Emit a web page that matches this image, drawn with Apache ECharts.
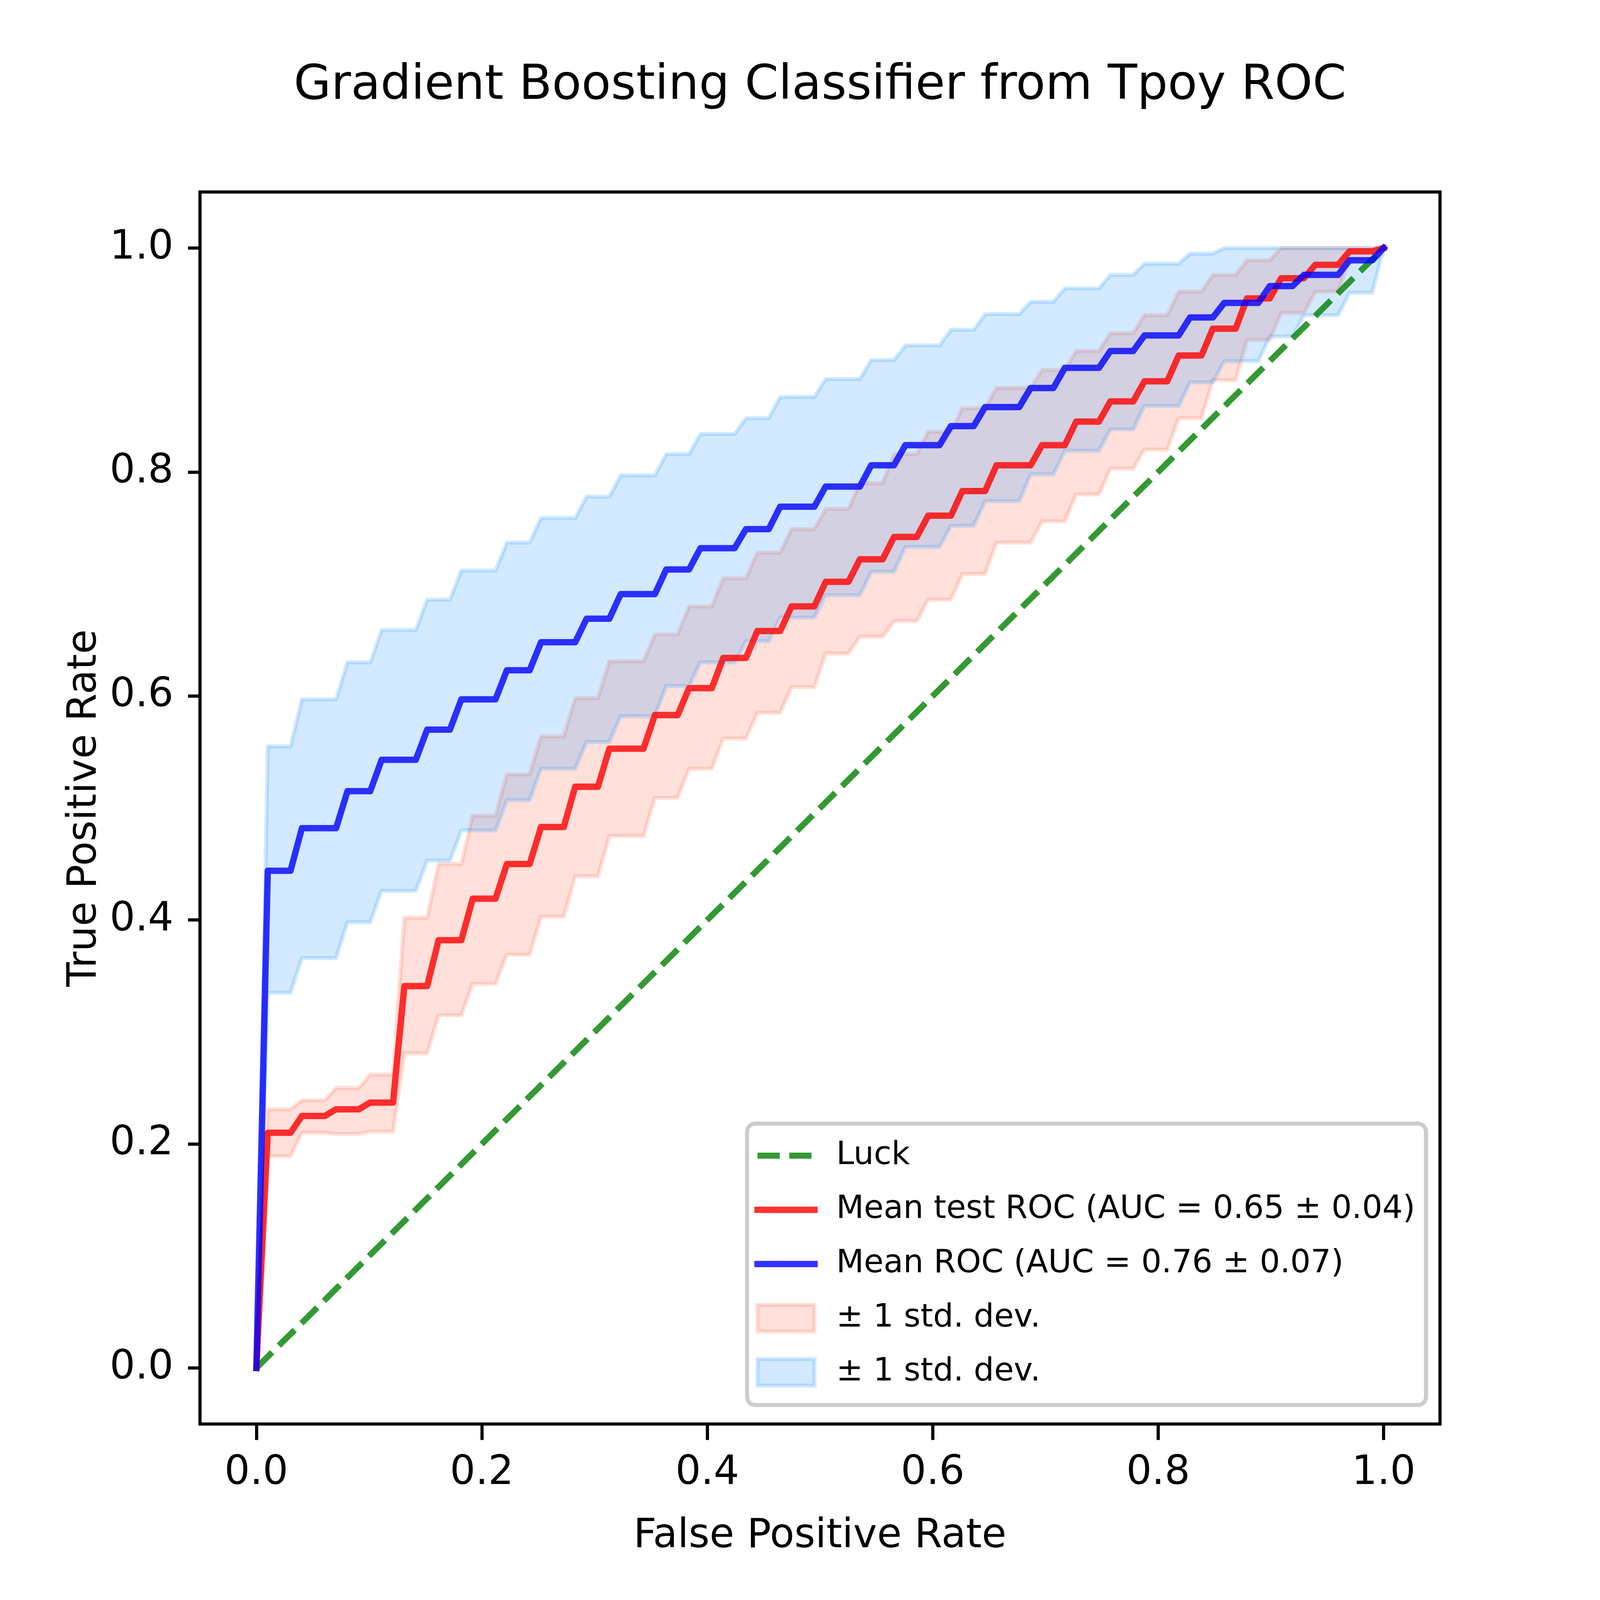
<!DOCTYPE html>
<html>
<head>
<meta charset="utf-8">
<script src="https://cdn.jsdelivr.net/npm/echarts@6/dist/echarts.min.js"></script>
<style>
  html, body { margin: 0; padding: 0; background: #fff; overflow: hidden; }
</style>
</head>
<body>
<div id="root"></div>
<script>
// mean curves are sampled on a 100 point fpr grid (0 .. 1)
const gridSize = 100

// chance line
const luckX = [0, 1]
const luckY = [0, 1]

// red curves (test ROC): grid index where each flat run starts + the level of that run
const redStarts = [0, 1, 4, 7, 10, 13, 16, 19, 22, 25, 28, 31, 35, 38, 41, 44, 47, 50, 53, 56, 59, 62, 65, 69, 72, 75, 78, 81, 84, 87, 90, 93, 96, 99]
const redMean = [0, 0.210, 0.225, 0.231, 0.237, 0.341, 0.382, 0.419, 0.450, 0.483, 0.519, 0.553, 0.583, 0.607, 0.634, 0.658, 0.680, 0.702, 0.722, 0.742, 0.761, 0.783, 0.806, 0.824, 0.845, 0.863, 0.881, 0.904, 0.928, 0.955, 0.973, 0.985, 0.997, 1.0]
const redUpper = [0, 0.231, 0.239, 0.250, 0.262, 0.402, 0.450, 0.493, 0.530, 0.564, 0.598, 0.631, 0.655, 0.680, 0.705, 0.728, 0.749, 0.767, 0.790, 0.816, 0.836, 0.857, 0.875, 0.891, 0.908, 0.924, 0.940, 0.961, 0.976, 0.989, 1.0, 1.0, 1.0, 1.0]
const redLower = [0, 0.189, 0.210, 0.209, 0.211, 0.281, 0.315, 0.343, 0.369, 0.403, 0.439, 0.475, 0.509, 0.535, 0.562, 0.585, 0.608, 0.638, 0.653, 0.667, 0.686, 0.709, 0.737, 0.756, 0.780, 0.803, 0.820, 0.848, 0.882, 0.918, 0.942, 0.961, 0.990, 1.0]

// blue curves (cv ROC)
const blueStarts = [0, 1, 4, 8, 11, 15, 18, 22, 25, 29, 32, 36, 39, 43, 46, 50, 54, 57, 61, 64, 68, 71, 75, 78, 82, 85, 89, 92, 96, 99]
const blueMean = [0, 0.444, 0.482, 0.515, 0.543, 0.570, 0.597, 0.623, 0.648, 0.669, 0.691, 0.713, 0.732, 0.749, 0.769, 0.787, 0.806, 0.824, 0.841, 0.858, 0.875, 0.893, 0.908, 0.922, 0.938, 0.951, 0.966, 0.976, 0.989, 1.0]
const blueUpper = [0, 0.555, 0.597, 0.630, 0.659, 0.686, 0.712, 0.737, 0.759, 0.778, 0.797, 0.816, 0.834, 0.848, 0.867, 0.883, 0.900, 0.913, 0.927, 0.941, 0.952, 0.964, 0.976, 0.986, 0.995, 1.0, 1.0, 1.0, 1.0, 1.0]
const blueLower = [0, 0.335, 0.366, 0.398, 0.426, 0.453, 0.480, 0.507, 0.535, 0.559, 0.582, 0.609, 0.630, 0.649, 0.670, 0.690, 0.711, 0.733, 0.752, 0.774, 0.798, 0.819, 0.838, 0.859, 0.880, 0.899, 0.921, 0.940, 0.960, 1.0]

const xTicks = [0, 0.2, 0.4, 0.6, 0.8, 1.0]
const yTicks = [0, 0.2, 0.4, 0.6, 0.8, 1.0]

const titleText = 'Gradient Boosting Classifier from Tpoy ROC'
const legendNames = ['Luck', 'Mean test ROC (AUC = 0.65 \u00b1 0.04)', 'Mean ROC (AUC = 0.76 \u00b1 0.07)', '\u00b1 1 std. dev.', '\u00b1 1 std. dev. ']

// sizes below are written for a 6400x4800 figure and scaled to the real window
const main = document.getElementById('root')
const width = document.documentElement.clientWidth || 6400
const height = document.documentElement.clientHeight || 4800
main.style.width = `${width}px`
main.style.height = `${height}px`
const kx = width / 6400
const ky = height / 4800
const kf = Math.sqrt(kx * ky)
const sx = (v) => v * kx
const sy = (v) => v * ky
const sf = (v) => v * kf

const font = 'DejaVu Sans'

// title sits over the middle of the axes, not of the figure
const measure = document.createElement('canvas').getContext('2d')
measure.font = `${sf(167)}px "${font}"`
const titleWidth = measure.measureText(titleText).width

// turn runs into points on the fpr grid
function expand(starts, levels) {
  const pts = []
  for (let j = 0; j < starts.length; j++) {
    const end = j + 1 < starts.length ? starts[j + 1] : gridSize
    for (let i = starts[j]; i < end; i++) {
      pts.push([i / (gridSize - 1), levels[j]])
    }
  }
  return pts
}

// std band: one polygon (upper edge, then lower edge backwards), drawn on the first item
function bandSeries(name, starts, lower, upper, rgb) {
  const low = expand(starts, lower)
  const up = expand(starts, upper)
  const rows = low.map((p, i) => [p[0], p[1], up[i][1]])
  return {
    name: name,
    type: 'custom',
    silent: true,
    z: 1,
    data: rows,
    encode: { x: 0, y: [1, 2] },
    itemStyle: { color: `rgba(${rgb},0.2)` },
    renderItem: (params, api) => {
      if (params.dataIndex !== 0) return null
      const n = params.dataInsideLength
      const top = []
      const bottom = []
      for (let i = 0; i < n; i++) {
        top.push(api.coord([api.value(0, i), api.value(2, i)]))
        bottom.push(api.coord([api.value(0, i), api.value(1, i)]))
      }
      return {
        type: 'polygon',
        shape: { points: top.concat(bottom.reverse()) },
        style: { fill: `rgba(${rgb},0.2)`, stroke: `rgba(${rgb},0.2)`, lineWidth: sf(14), lineJoin: 'round' }
      }
    }
  }
}

const myChart = echarts.init(main)

const hidden = { opacity: 0 }
const axisFont = { fontFamily: font, fontSize: sf(139), lineHeight: sf(139), color: '#000' }
const legendRow = sf(111)

const option = {
  animation: false,
  backgroundColor: '#fff',
  textStyle: { fontFamily: font },
  title: {
    text: titleText,
    left: sx(3280) - titleWidth / 2,
    top: sy(309) - sf(141),
    padding: 0,
    textStyle: { fontFamily: font, fontSize: sf(167), fontWeight: 'normal', color: '#000', lineHeight: sf(167) }
  },
  grid: {
    left: sx(800), right: sx(640), top: sy(576), bottom: sy(528),
    show: true, borderColor: '#000', borderWidth: sf(11), backgroundColor: 'transparent'
  },
  legend: {
    orient: 'vertical',
    right: sx(696),
    bottom: sy(585),
    align: 'left',
    itemWidth: sx(228),
    itemHeight: Math.min(sy(80), legendRow),
    itemGap: sy(162.5) - legendRow,
    padding: [sy(48), sx(43), sy(50), sx(29)],
    borderColor: '#cccccc',
    borderWidth: sf(14),
    borderRadius: sf(28),
    backgroundColor: '#fff',
    selectedMode: false,
    lineStyle: { width: 'inherit', type: 'inherit', opacity: 'inherit' },
    textStyle: { fontFamily: font, fontSize: sf(111), lineHeight: legendRow, color: '#000', padding: [0, 0, 0, sx(79)] },
    data: [
      { name: legendNames[0], itemStyle: hidden },
      { name: legendNames[1], itemStyle: hidden },
      { name: legendNames[2], itemStyle: hidden },
      { name: legendNames[3], icon: 'rect', itemStyle: { color: 'rgba(255,99,71,0.2)', borderColor: 'rgba(255,99,71,0.2)', borderWidth: sf(14), opacity: 1 } },
      { name: legendNames[4], icon: 'rect', itemStyle: { color: 'rgba(30,144,255,0.2)', borderColor: 'rgba(30,144,255,0.2)', borderWidth: sf(14), opacity: 1 } }
    ]
  },
  xAxis: {
    type: 'value',
    min: -0.05,
    max: 1.05,
    name: 'False Positive Rate',
    nameLocation: 'middle',
    nameGap: sy(292) - sf(16),
    nameTextStyle: axisFont,
    axisLine: { show: false, onZero: false },
    splitLine: { show: false },
    axisTick: { show: true, length: sy(48), lineStyle: { color: '#000', width: sf(11) }, customValues: xTicks },
    axisLabel: { ...axisFont, margin: sy(102) - sf(16), customValues: xTicks, formatter: (v) => v.toFixed(1) }
  },
  yAxis: {
    type: 'value',
    min: -0.05,
    max: 1.05,
    name: 'True Positive Rate',
    nameLocation: 'middle',
    nameGap: sx(402) - sf(21),
    nameTextStyle: axisFont,
    axisLine: { show: false, onZero: false },
    splitLine: { show: false },
    axisTick: { show: true, length: sx(48), lineStyle: { color: '#000', width: sf(11) }, customValues: yTicks },
    axisLabel: { ...axisFont, margin: sx(106), customValues: yTicks, formatter: (v) => v.toFixed(1) }
  },
  series: [
    // std bands sit under the lines
    bandSeries(legendNames[3], redStarts, redLower, redUpper, '255,99,71'),
    bandSeries(legendNames[4], blueStarts, blueLower, blueUpper, '30,144,255'),
    {
      name: legendNames[0], type: 'line', symbol: 'none', silent: true, z: 2,
      data: luckX.map((x, i) => [x, luckY[i]]),
      itemStyle: { color: 'rgb(0,128,0)' },
      lineStyle: { color: 'rgb(0,128,0)', opacity: 0.8, width: sf(21), type: [sf(77), sf(33)], cap: 'butt' }
    },
    {
      name: legendNames[1], type: 'line', symbol: 'none', silent: true, z: 3,
      data: expand(redStarts, redMean),
      itemStyle: { color: 'rgb(255,0,0)' },
      lineStyle: { color: 'rgb(255,0,0)', opacity: 0.8, width: sf(22), join: 'round', cap: 'square' }
    },
    {
      name: legendNames[2], type: 'line', symbol: 'none', silent: true, z: 4,
      data: expand(blueStarts, blueMean),
      itemStyle: { color: 'rgb(0,0,255)' },
      lineStyle: { color: 'rgb(0,0,255)', opacity: 0.8, width: sf(22), join: 'round', cap: 'square' }
    }
  ]
}

myChart.setOption(option)
</script>
</body>
</html>
